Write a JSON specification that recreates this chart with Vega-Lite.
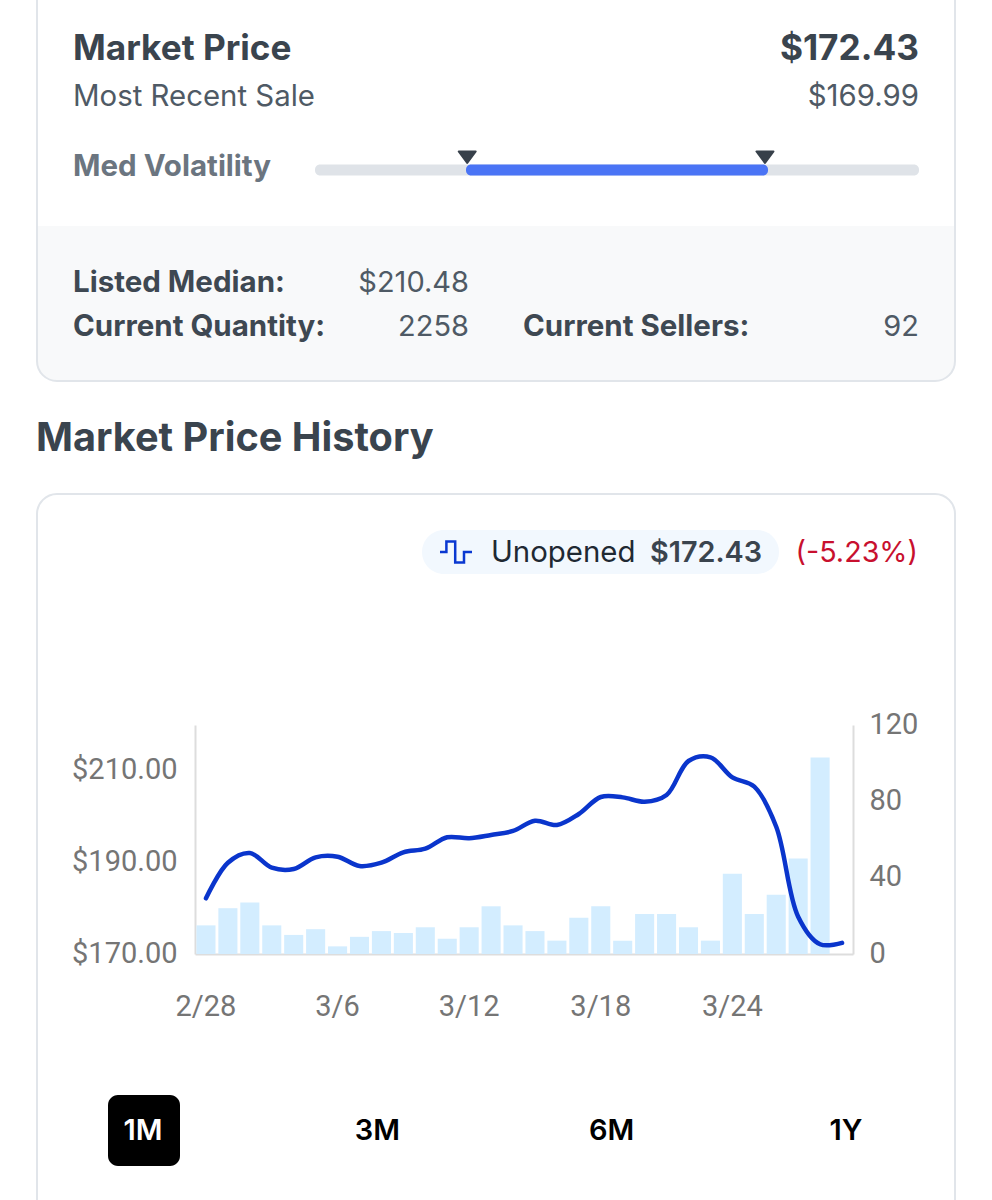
{"$schema":"https://vega.github.io/schema/vega-lite/v6.json","width":992,"height":1200,"padding":0,"autosize":{"type":"none"},"background":"#ffffff","config":{"view":{"stroke":null},"font":"Inter"},
"datasets":{"history":[
{"day":"2/28","price":182.16,"sales":15},{"day":"3/1","price":189.93,"sales":24},{"day":"3/2","price":192.05,"sales":27},{"day":"3/3","price":188.84,"sales":15},{"day":"3/4","price":188.56,"sales":10},{"day":"3/5","price":191.11,"sales":13},{"day":"3/6","price":191.24,"sales":4},{"day":"3/7","price":189.21,"sales":9},{"day":"3/8","price":189.93,"sales":12},{"day":"3/9","price":192.2,"sales":11},{"day":"3/10","price":192.99,"sales":14},{"day":"3/11","price":195.48,"sales":8},{"day":"3/12","price":195.26,"sales":14},{"day":"3/13","price":195.98,"sales":25},{"day":"3/14","price":196.86,"sales":15},{"day":"3/15","price":199.1,"sales":12},{"day":"3/16","price":198.17,"sales":7},{"day":"3/17","price":200.57,"sales":19},{"day":"3/18","price":204.28,"sales":25},{"day":"3/19","price":204.2,"sales":7},{"day":"3/20","price":203.25,"sales":21},{"day":"3/21","price":204.72,"sales":21},{"day":"3/22","price":212.14,"sales":14},{"day":"3/23","price":212.95,"sales":7},{"day":"3/24","price":208.58,"sales":42},{"day":"3/25","price":206.53,"sales":21},{"day":"3/26","price":197.79,"sales":31},{"day":"3/27","price":178.14,"sales":50},{"day":"3/28","price":172.12,"sales":103},{"day":"3/29","price":172.43,"sales":0}],
"volatility":[{"part":"range","band":"bar","low":0,"high":100},{"part":"current","band":"bar","low":25,"high":75}],
"volatilityMarks":[{"bound":"low","band":"bar","at":25.2},{"bound":"high","band":"bar","at":74.5}]},
"resolve":{"scale":{"x":"independent","y":"independent","color":"independent"}},
"layer":[
{"data":{"values":[{"a":"left","b":"right","c":"top","d":"bottom"}]},"mark":{"type":"rect","fill":"#f8f9fa","cornerRadiusBottomLeft":20,"cornerRadiusBottomRight":20},"encoding":{"x":{"field":"a","type":"nominal","axis":null,"scale":{"type":"point","padding":0,"domain":["left","right"],"range":[37,955]}},"x2":{"field":"b"},"y":{"field":"c","type":"nominal","axis":null,"scale":{"type":"point","padding":0,"domain":["top","bottom"],"range":[226,381]}},"y2":{"field":"d"}}},
{"data":{"values":[{"a":"left","b":"right","c":"top","d":"bottom"}]},"mark":{"type":"rect","fill":"transparent","stroke":"#e1e5ea","strokeWidth":2,"cornerRadius":20},"encoding":{"x":{"field":"a","type":"nominal","axis":null,"scale":{"type":"point","padding":0,"domain":["left","right"],"range":[37,955]}},"x2":{"field":"b"},"y":{"field":"c","type":"nominal","axis":null,"scale":{"type":"point","padding":0,"domain":["top","bottom"],"range":[-30,381]}},"y2":{"field":"d"}}},
{"data":{"values":[{"a":"left","b":"right","c":"top","d":"bottom"}]},"mark":{"type":"rect","fill":"transparent","stroke":"#e1e5ea","strokeWidth":2,"cornerRadius":20},"encoding":{"x":{"field":"a","type":"nominal","axis":null,"scale":{"type":"point","padding":0,"domain":["left","right"],"range":[37,955]}},"x2":{"field":"b"},"y":{"field":"c","type":"nominal","axis":null,"scale":{"type":"point","padding":0,"domain":["top","bottom"],"range":[494,1240]}},"y2":{"field":"d"}}},
{"data":{"values":[{"text":"Market Price","col":"left"}]},"mark":{"type":"text","align":"left","baseline":"middle","fontSize":35.2,"fontWeight":700,"color":"#3a444e"},"encoding":{"text":{"field":"text"},"x":{"field":"col","type":"nominal","axis":null,"scale":{"type":"point","padding":0,"domain":["left"],"range":[73,73]}},"y":{"field":"col","type":"nominal","axis":null,"scale":{"type":"point","padding":0,"domain":["left"],"range":[49,49]}}}},
{"data":{"values":[{"text":"$172.43","col":"right"}]},"mark":{"type":"text","align":"right","baseline":"middle","fontSize":35.2,"fontWeight":700,"color":"#3a444e"},"encoding":{"text":{"field":"text"},"x":{"field":"col","type":"nominal","axis":null,"scale":{"type":"point","padding":0,"domain":["right"],"range":[919,919]}},"y":{"field":"col","type":"nominal","axis":null,"scale":{"type":"point","padding":0,"domain":["right"],"range":[49,49]}}}},
{"data":{"values":[{"text":"Most Recent Sale","col":"left"}]},"mark":{"type":"text","align":"left","baseline":"middle","fontSize":29.4,"color":"#4f5a65"},"encoding":{"text":{"field":"text"},"x":{"field":"col","type":"nominal","axis":null,"scale":{"type":"point","padding":0,"domain":["left"],"range":[73,73]}},"y":{"field":"col","type":"nominal","axis":null,"scale":{"type":"point","padding":0,"domain":["left"],"range":[97,97]}}}},
{"data":{"values":[{"text":"$169.99","col":"right"}]},"mark":{"type":"text","align":"right","baseline":"middle","fontSize":29.4,"color":"#4f5a65"},"encoding":{"text":{"field":"text"},"x":{"field":"col","type":"nominal","axis":null,"scale":{"type":"point","padding":0,"domain":["right"],"range":[919,919]}},"y":{"field":"col","type":"nominal","axis":null,"scale":{"type":"point","padding":0,"domain":["right"],"range":[97,97]}}}},
{"data":{"values":[{"text":"Med Volatility","col":"left"}]},"mark":{"type":"text","align":"left","baseline":"middle","fontSize":29.5,"fontWeight":700,"color":"#6b7580"},"encoding":{"text":{"field":"text"},"x":{"field":"col","type":"nominal","axis":null,"scale":{"type":"point","padding":0,"domain":["left"],"range":[73,73]}},"y":{"field":"col","type":"nominal","axis":null,"scale":{"type":"point","padding":0,"domain":["left"],"range":[167,167]}}}},
{"data":{"name":"volatility"},"mark":{"type":"rect","height":11,"cornerRadius":5},"encoding":{"x":{"field":"low","type":"quantitative","axis":null,"scale":{"domain":[0,100],"range":[315,919]}},"x2":{"field":"high"},"y":{"field":"band","type":"nominal","axis":null,"scale":{"type":"point","padding":0,"domain":["bar"],"range":[170,170]}},"color":{"field":"part","type":"nominal","legend":null,"scale":{"domain":["range","current"],"range":["#dfe3e8","#4a74f5"]}}}},
{"data":{"name":"volatilityMarks"},"mark":{"type":"point","shape":"M-0.85,-0.55H0.85L0,0.6Z","size":400,"filled":true,"fill":"#37404a","stroke":"#37404a","strokeWidth":2,"strokeJoin":"round","opacity":1},"encoding":{"x":{"field":"at","type":"quantitative","axis":null,"scale":{"domain":[0,100],"range":[315,919]}},"y":{"field":"band","type":"nominal","axis":null,"scale":{"type":"point","padding":0,"domain":["bar"],"range":[157,157]}}}},
{"data":{"values":[{"text":"Listed Median:","col":"first","row":"upper"},{"text":"Current Quantity:","col":"first","row":"lower"},{"text":"Current Sellers:","col":"second","row":"lower"}]},"mark":{"type":"text","align":"left","baseline":"middle","fontSize":29.5,"fontWeight":700,"color":"#3e4852"},"encoding":{"text":{"field":"text"},"x":{"field":"col","type":"nominal","axis":null,"scale":{"type":"point","padding":0,"domain":["first","second"],"range":[73,523]}},"y":{"field":"row","type":"nominal","axis":null,"scale":{"type":"point","padding":0,"domain":["upper","lower"],"range":[283,327]}}}},
{"data":{"values":[{"text":"$210.48","col":"first","row":"upper"},{"text":"2258","col":"first","row":"lower"},{"text":"92","col":"second","row":"lower"}]},"mark":{"type":"text","align":"right","baseline":"middle","fontSize":29,"color":"#4f5a65"},"encoding":{"text":{"field":"text"},"x":{"field":"col","type":"nominal","axis":null,"scale":{"type":"point","padding":0,"domain":["first","second"],"range":[469,919]}},"y":{"field":"row","type":"nominal","axis":null,"scale":{"type":"point","padding":0,"domain":["upper","lower"],"range":[283,327]}}}},
{"data":{"values":[{"text":"Market Price History","col":"left"}]},"mark":{"type":"text","align":"left","baseline":"middle","fontSize":39.7,"fontWeight":700,"color":"#3a444e"},"encoding":{"text":{"field":"text"},"x":{"field":"col","type":"nominal","axis":null,"scale":{"type":"point","padding":0,"domain":["left"],"range":[36,36]}},"y":{"field":"col","type":"nominal","axis":null,"scale":{"type":"point","padding":0,"domain":["left"],"range":[439,439]}}}},
{"data":{"values":[{"a":"left","b":"right","c":"top","d":"bottom"}]},"mark":{"type":"rect","fill":"#f2f8fe","cornerRadius":22},"encoding":{"x":{"field":"a","type":"nominal","axis":null,"scale":{"type":"point","padding":0,"domain":["left","right"],"range":[422,779]}},"x2":{"field":"b"},"y":{"field":"c","type":"nominal","axis":null,"scale":{"type":"point","padding":0,"domain":["top","bottom"],"range":[530,574]}},"y2":{"field":"d"}}},
{"data":{"values":[{"series":"Unopened"}]},"mark":{"type":"point","shape":"M-1,0H-0.6V-0.65H-0.05V0.65H0.5V0H1","size":1024,"filled":false,"stroke":"#0a38d1","strokeWidth":2.5,"opacity":1},"encoding":{"x":{"field":"series","type":"nominal","axis":null,"scale":{"type":"point","padding":0,"domain":["Unopened"],"range":[456,456]}},"y":{"field":"series","type":"nominal","axis":null,"scale":{"type":"point","padding":0,"domain":["Unopened"],"range":[552,552]}}}},
{"data":{"values":[{"text":"Unopened"}]},"mark":{"type":"text","align":"left","baseline":"middle","fontSize":29.4,"color":"#1f2933"},"encoding":{"text":{"field":"text"},"x":{"field":"text","type":"nominal","axis":null,"scale":{"type":"point","padding":0,"domain":["Unopened"],"range":[491,491]}},"y":{"field":"text","type":"nominal","axis":null,"scale":{"type":"point","padding":0,"domain":["Unopened"],"range":[553,553]}}}},
{"data":{"values":[{"text":"$172.43"}]},"mark":{"type":"text","align":"left","baseline":"middle","fontSize":28.8,"fontWeight":600,"color":"#3a444e"},"encoding":{"text":{"field":"text"},"x":{"field":"text","type":"nominal","axis":null,"scale":{"type":"point","padding":0,"domain":["$172.43"],"range":[650,650]}},"y":{"field":"text","type":"nominal","axis":null,"scale":{"type":"point","padding":0,"domain":["$172.43"],"range":[553,553]}}}},
{"data":{"values":[{"text":"(-5.23%)"}]},"mark":{"type":"text","align":"right","baseline":"middle","fontSize":28.7,"color":"#c8102e"},"encoding":{"text":{"field":"text"},"x":{"field":"text","type":"nominal","axis":null,"scale":{"type":"point","padding":0,"domain":["(-5.23%)"],"range":[918,918]}},"y":{"field":"text","type":"nominal","axis":null,"scale":{"type":"point","padding":0,"domain":["(-5.23%)"],"range":[553,553]}}}},
{"data":{"name":"history"},"mark":{"type":"bar","color":"#d3edff"},"encoding":{"x":{"field":"day","type":"nominal","sort":null,"title":null,"scale":{"type":"band","range":[195,853],"paddingInner":0.13,"paddingOuter":0.065},"axis":{"orient":"bottom","offset":-246,"values":["2/28","3/6","3/12","3/18","3/24"],"labelAngle":0,"ticks":false,"grid":false,"domainColor":"#dddddd","domainWidth":2,"labelFont":"Roboto","labelFontSize":29,"labelColor":"#757575","labelPadding":38}},"y":{"field":"sales","type":"quantitative","title":null,"scale":{"domain":[0,120],"range":[954,725],"nice":false},"axis":{"orient":"right","offset":-139,"values":[0,40,80,120],"ticks":false,"grid":false,"domainColor":"#dddddd","domainWidth":2,"labelFont":"Roboto","labelFontSize":29,"labelColor":"#757575","labelPadding":16,"labelBound":false,"labelOffset":-1}}}},
{"data":{"name":"history"},"mark":{"type":"line","color":"#0a35cc","strokeWidth":4.5,"interpolate":"catmull-rom","strokeCap":"round"},"encoding":{"x":{"field":"day","type":"nominal","sort":null,"axis":null,"scale":{"type":"band","range":[195,853],"paddingInner":0.13,"paddingOuter":0.065}},"y":{"field":"price","type":"quantitative","title":null,"scale":{"domain":[170,220],"range":[954,725],"nice":false,"zero":false},"axis":{"orient":"left","offset":-195,"values":[170,190,210],"format":"$.2f","ticks":false,"grid":false,"domainColor":"#dddddd","domainWidth":2,"labelFont":"Roboto","labelFontSize":29,"labelColor":"#757575","labelPadding":18,"labelBound":false,"labelOffset":-1}}}},
{"data":{"values":[{"a":"left","b":"right","c":"top","d":"bottom"}]},"mark":{"type":"rect","fill":"#000000","cornerRadius":10},"encoding":{"x":{"field":"a","type":"nominal","axis":null,"scale":{"type":"point","padding":0,"domain":["left","right"],"range":[108,180]}},"x2":{"field":"b"},"y":{"field":"c","type":"nominal","axis":null,"scale":{"type":"point","padding":0,"domain":["top","bottom"],"range":[1095,1166]}},"y2":{"field":"d"}}},
{"data":{"values":[{"range":"1M","state":"active"},{"range":"3M","state":"idle"},{"range":"6M","state":"idle"},{"range":"1Y","state":"idle"}]},"mark":{"type":"text","align":"center","baseline":"middle","fontSize":29,"fontWeight":600},"encoding":{"text":{"field":"range"},"x":{"field":"range","type":"nominal","sort":null,"axis":null,"scale":{"type":"point","padding":0,"domain":["1M","3M","6M","1Y"],"range":[143,846]}},"y":{"field":"state","type":"nominal","axis":null,"scale":{"type":"point","padding":0,"domain":["active","idle"],"range":[1131,1131]}},"color":{"field":"state","type":"nominal","legend":null,"scale":{"domain":["active","idle"],"range":["#ffffff","#000000"]}}}}
]}
